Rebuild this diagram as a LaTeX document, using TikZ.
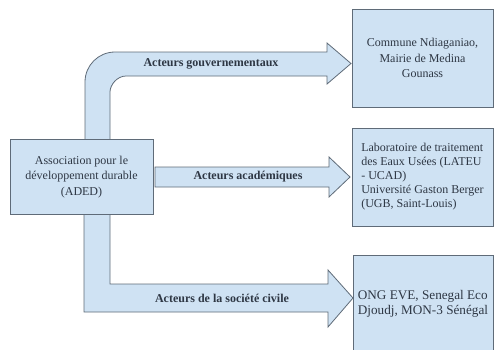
\documentclass[tikz,border=0pt]{standalone}
\usepackage{fontspec}
\setmainfont{Liberation Serif}
\definecolor{boxfill}{HTML}{CFE2F3}
\definecolor{edge}{HTML}{5F6B78}
\definecolor{txt}{HTML}{2E3744}
\begin{document}
\begin{tikzpicture}[x=1pt,y=-1pt,
  blockarrow/.style={fill=boxfill, draw=edge, line width=0.8pt, line join=miter},
  box/.style={draw=edge, fill=boxfill, line width=0.8pt, inner sep=0pt, text=txt, align=center, font=\fontsize{12}{15.5}\selectfont},
  lbl/.style={font=\bfseries\fontsize{12}{14}\selectfont, text=txt, inner sep=0pt}]
\useasboundingbox (0,0) rectangle (495,349);
\clip (0,0) rectangle (495,349);
% block arrows
\filldraw[blockarrow] (85,141) -- (85,82) .. controls (85,65.4) and (98.4,52) .. (115,52)
  -- (327,52) -- (327,43) -- (351,63.5) -- (327,84) -- (327,76) -- (126,76)
  .. controls (117.2,76) and (110,84.8) .. (110,92) -- (110,141) -- cycle;
\filldraw[blockarrow] (155,167) -- (329,167) -- (329,157) -- (350,177) -- (329,197) -- (329,187) -- (155,187) -- cycle;
\filldraw[blockarrow] (84,214) -- (84,312) -- (328,312) -- (328,327) -- (353,298) -- (328,270) -- (328,284) -- (110,284) -- (110,214) -- cycle;
% boxes
\node[box, minimum width=143, minimum height=75] (aded) at (81.5,177) {Association pour le\\ développement durable\\ (ADED)};
\node[box, minimum width=141, minimum height=98] (gov) at (422.5,58) {Commune Ndiaganiao,\\ Mairie de Medina\\ Gounass};
\node[box, minimum width=141, minimum height=98, align=left, font=\fontsize{12}{14}\selectfont] (acad) at (422.5,177) {Laboratoire de traitement\\ des Eaux Usées (LATEU\\ - UCAD)\\ Université Gaston Berger\\ (UGB, Saint-Louis)};
\node[box, minimum width=140, minimum height=97, align=left, font=\fontsize{13.2}{15}\selectfont] (civ) at (423,303.5) {ONG EVE, Senegal Eco\\ Djoudj, MON-3 Sénégal};
% labels
\node[lbl] (lgov) at (211,63.5) {Acteurs gouvernementaux};
\node[lbl] (lacad) at (248,177) {Acteurs académiques};
\node[lbl] (lciv) at (222,298) {Acteurs de la société civile};
\end{tikzpicture}
\end{document}
